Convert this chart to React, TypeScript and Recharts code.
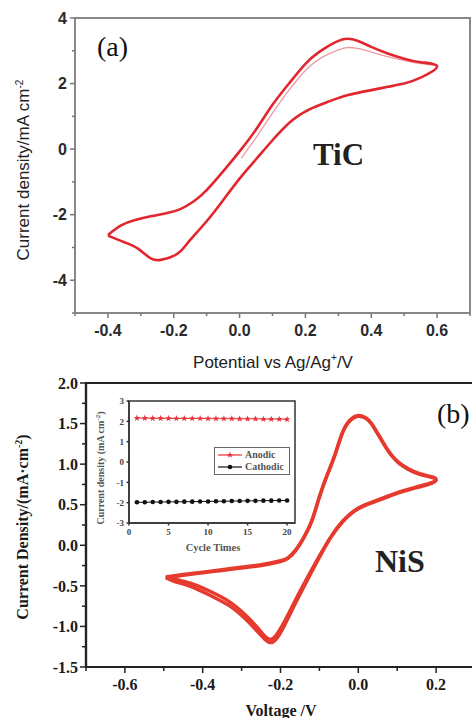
import React from 'react';
import { LineChart, Line, XAxis, YAxis, ReferenceArea, Symbols } from 'recharts';

// (a) TiC cyclic voltammogram, steady cycle: forward sweep then reverse sweep
const tiCPotential = [
  -0.4, -0.36, -0.32, -0.27, -0.22, -0.18, -0.14, -0.1, -0.05, 0.0, 0.05, 0.1, 0.15, 0.2, 0.24, 0.28, 0.32, 0.36, 0.4, 0.45, 0.5, 0.55, 0.6,
  0.55, 0.5, 0.45, 0.4, 0.33, 0.27, 0.22, 0.16, 0.1, 0.05, 0.0, -0.05, -0.1, -0.15, -0.18, -0.21, -0.24, -0.27, -0.31, -0.35, -0.4,
];
const tiCCurrent = [
  -2.62, -2.33, -2.17, -2.05, -1.95, -1.83, -1.6, -1.25, -0.68, -0.07, 0.6, 1.35, 2.0, 2.6, 2.95, 3.2, 3.36, 3.3, 3.12, 2.92, 2.76, 2.65, 2.52,
  2.18, 2.0, 1.9, 1.8, 1.65, 1.45, 1.25, 0.88, 0.27, -0.31, -0.9, -1.56, -2.2, -2.77, -3.12, -3.3, -3.38, -3.33, -3.03, -2.84, -2.64,
];
// first cycle (thin line), starting at open circuit
const tiCFirstPotential = [0.005, 0.05, 0.1, 0.15, 0.2, 0.25, 0.3, 0.33, 0.37, 0.42, 0.48, 0.54, 0.6];
const tiCFirstCurrent = [-0.28, 0.35, 1.1, 1.8, 2.4, 2.8, 3.03, 3.1, 3.05, 2.9, 2.75, 2.62, 2.55];

// (b) NiS cyclic voltammogram, two overlapping cycles
const niSPotential = [
  -0.495, -0.45, -0.4, -0.35, -0.3, -0.25, -0.2, -0.18, -0.16, -0.14, -0.12, -0.1, -0.08, -0.06, -0.04, -0.02, 0.0, 0.02, 0.04, 0.07, 0.1, 0.13, 0.16, 0.2,
  0.15, 0.1, 0.05, 0.0, -0.04, -0.07, -0.1, -0.13, -0.16, -0.19, -0.21, -0.225, -0.24, -0.26, -0.29, -0.33, -0.38, -0.43, -0.47, -0.495,
];
const niSCurrent1 = [
  -0.39, -0.36, -0.33, -0.3, -0.27, -0.24, -0.19, -0.15, -0.05, 0.1, 0.3, 0.6, 0.87, 1.12, 1.4, 1.55, 1.6, 1.57, 1.46, 1.22, 1.04, 0.94, 0.88, 0.81,
  0.72, 0.65, 0.56, 0.46, 0.3, 0.11, -0.13, -0.39, -0.66, -0.94, -1.1, -1.16, -1.12, -1.01, -0.86, -0.7, -0.57, -0.47, -0.42, -0.39,
];
const niSCurrent2 = [
  -0.4, -0.37, -0.34, -0.31, -0.28, -0.25, -0.2, -0.16, -0.06, 0.09, 0.29, 0.59, 0.86, 1.11, 1.39, 1.54, 1.59, 1.56, 1.45, 1.21, 1.03, 0.93, 0.87, 0.8,
  0.71, 0.64, 0.55, 0.45, 0.29, 0.1, -0.15, -0.42, -0.7, -0.99, -1.15, -1.2, -1.16, -1.06, -0.91, -0.75, -0.62, -0.51, -0.45, -0.4,
];

// inset: peak current vs cycle number
const cycles = [1, 2, 3, 4, 5, 6, 7, 8, 9, 10, 11, 12, 13, 14, 15, 16, 17, 18, 19, 20];
const anodic = [2.16, 2.16, 2.15, 2.15, 2.15, 2.14, 2.14, 2.14, 2.14, 2.13, 2.13, 2.13, 2.13, 2.12, 2.12, 2.12, 2.11, 2.11, 2.11, 2.1];
const cathodic = [-1.98, -1.98, -1.97, -1.97, -1.96, -1.96, -1.95, -1.95, -1.94, -1.94, -1.93, -1.93, -1.92, -1.92, -1.91, -1.91, -1.9, -1.9, -1.89, -1.89];

// tick values (majors and minors)
const tiCXTicks = [-0.5, -0.4, -0.3, -0.2, -0.1, 0, 0.1, 0.2, 0.3, 0.4, 0.5, 0.6, 0.7];
const tiCYTicks = [-5, -4, -3, -2, -1, 0, 1, 2, 3, 4];
const niSXTicks = [-0.7, -0.6, -0.5, -0.4, -0.3, -0.2, -0.1, 0, 0.1, 0.2, 0.3];
const niSYTicks = [-1.5, -1.25, -1, -0.75, -0.5, -0.25, 0, 0.25, 0.5, 0.75, 1, 1.25, 1.5, 1.75, 2];
const insetXTicks = [0, 5, 10, 15, 20];
const insetYTicks = [-3, -2, -1, 0, 1, 2, 3];

const zip = (xs: number[], ys: number[]) => xs.map((x, i) => ({ x, y: ys[i] }));

const SANS = '"Liberation Sans", Arial, sans-serif';
const SERIF = '"Liberation Serif", "Times New Roman", serif';

const RED_A = '#e2262d';
const RED_B = '#e63a2e';

type TickCfg = {
  isMajor: (v: number) => boolean;
  fmt: (v: number) => string;
  major: number;
  minor: number;
  color: string;
  off: number;
  font: string;
  size: number;
  weight: string | number;
  textColor: string;
};

const xTick = (c: TickCfg) => (p: any) => {
  const v = p.payload.value;
  const major = c.isMajor(v);
  return (
    <g>
      <line x1={p.x} x2={p.x} y1={p.y} y2={p.y + (major ? c.major : c.minor)} stroke={c.color} strokeWidth={1.5} />
      {major && (
        <text x={p.x} y={p.y + c.off} textAnchor="middle" fontFamily={c.font} fontSize={c.size} fontWeight={c.weight} fill={c.textColor}>
          {c.fmt(v)}
        </text>
      )}
    </g>
  );
};

const yTick = (c: TickCfg) => (p: any) => {
  const v = p.payload.value;
  const major = c.isMajor(v);
  return (
    <g>
      <line x1={p.x} x2={p.x - (major ? c.major : c.minor)} y1={p.y} y2={p.y} stroke={c.color} strokeWidth={1.5} />
      {major && (
        <text x={p.x - c.off} y={p.y} dy="0.36em" textAnchor="end" fontFamily={c.font} fontSize={c.size} fontWeight={c.weight} fill={c.textColor}>
          {c.fmt(v)}
        </text>
      )}
    </g>
  );
};

const rotated = (cx: number, cy: number, style: React.CSSProperties, children: React.ReactNode) => (
  <div
    style={{
      position: 'absolute',
      left: cx,
      top: cy,
      transform: 'translate(-50%, -50%) rotate(-90deg)',
      whiteSpace: 'nowrap',
      lineHeight: 1,
      ...style,
    }}
  >
    {children}
  </div>
);

const AnodicDot = (p: any) => (
  <Symbols key={`an-${p.index}`} cx={p.cx} cy={p.cy} type="star" size={14} fill="#e8303a" stroke="none" />
);
const CathodicDot = (p: any) => <circle key={`ca-${p.index}`} cx={p.cx} cy={p.cy} r={2.3} fill="#111" />;

export default function App() {
  const tiCLoop = zip(tiCPotential, tiCCurrent);
  const tiCFirst = zip(tiCFirstPotential, tiCFirstCurrent);
  const niS1 = zip(niSPotential, niSCurrent1);
  const niS2 = zip(niSPotential, niSCurrent2);
  const anodicData = zip(cycles, anodic);
  const cathodicData = zip(cycles, cathodic);

  const tickA = {
    major: 5,
    minor: 3,
    color: '#777',
    font: SANS,
    size: 16,
    weight: 'bold',
    textColor: '#2a2a2a',
  };
  const tickB = {
    major: 6,
    minor: 4,
    color: '#222',
    font: SERIF,
    size: 16,
    weight: 'bold',
    textColor: '#1a1a1a',
  };
  const tickIn = {
    major: 2.5,
    minor: 2.5,
    color: '#333',
    font: SERIF,
    size: 9,
    weight: 'bold',
    textColor: '#444',
  };

  return (
    <div style={{ position: 'absolute', left: 0, top: 0, width: 472, height: 718, overflow: 'hidden', background: '#fff' }}>
      {/* (a) TiC */}
      <div style={{ position: 'absolute', left: 0, top: 0 }}>
        <LineChart width={472} height={340} margin={{ top: 18, right: 2, bottom: 0, left: 0 }}>
          <XAxis
            type="number"
            dataKey="x"
            domain={[-0.5, 0.7]}
            ticks={tiCXTicks}
            interval={0}
            height={27}
            tickSize={0}
            tickMargin={0}
            tickLine={false}
            axisLine={{ stroke: '#888', strokeWidth: 2 }}
            tick={xTick({ ...tickA, isMajor: (v) => Math.round(v * 10) % 2 === 0, fmt: (v) => v.toFixed(1), off: 23 })}
          />
          <YAxis
            type="number"
            domain={[-5, 4]}
            ticks={tiCYTicks}
            interval={0}
            width={75}
            tickSize={0}
            tickMargin={0}
            tickLine={false}
            axisLine={{ stroke: '#888', strokeWidth: 2 }}
            tick={yTick({ ...tickA, isMajor: (v) => v % 2 === 0, fmt: (v) => String(v), off: 8 })}
          />
          <ReferenceArea x1={-0.5} x2={0.7} y1={-5} y2={4} fill="none" stroke="#888" strokeWidth={2} />
          <Line data={tiCFirst} dataKey="y" type="natural" stroke="#ee9aa2" strokeWidth={1.3} dot={false} isAnimationActive={false} />
          <Line data={tiCLoop} dataKey="y" type="natural" stroke={RED_A} strokeWidth={2.6} dot={false} isAnimationActive={false} />
        </LineChart>
      </div>
      {rotated(23, 170, { fontFamily: SANS, fontSize: 17, color: '#222' }, (
        <span>
          Current density/mA cm<sup style={{ fontSize: 10 }}>-2</sup>
        </span>
      ))}
      <div style={{ position: 'absolute', left: 0, width: 546, top: 353, textAlign: 'center', fontFamily: SANS, fontSize: 17, color: '#222', lineHeight: 1 }}>
        Potential vs Ag/Ag<sup style={{ fontSize: 10 }}>+</sup>/V
      </div>
      <div style={{ position: 'absolute', left: 97, top: 33, fontFamily: SERIF, fontSize: 28, color: '#111', lineHeight: 1 }}>(a)</div>
      <div style={{ position: 'absolute', left: 313, top: 139, fontFamily: SERIF, fontSize: 31, fontWeight: 'bold', color: '#222', lineHeight: 1 }}>TiC</div>

      {/* (b) NiS */}
      <div style={{ position: 'absolute', left: 0, top: 350 }}>
        <LineChart width={476} height={368} margin={{ top: 33, right: 1, bottom: 0, left: 0 }}>
          <XAxis
            type="number"
            dataKey="x"
            domain={[-0.7, 0.3]}
            ticks={niSXTicks}
            interval={0}
            height={51}
            tickSize={0}
            tickMargin={0}
            tickLine={false}
            axisLine={{ stroke: '#222', strokeWidth: 2.2 }}
            tick={xTick({ ...tickB, isMajor: (v) => Math.round(v * 10) % 2 === 0, fmt: (v) => v.toFixed(1), off: 23 })}
          />
          <YAxis
            type="number"
            domain={[-1.5, 2]}
            ticks={niSYTicks}
            interval={0}
            width={86}
            tickSize={0}
            tickMargin={0}
            tickLine={false}
            axisLine={{ stroke: '#222', strokeWidth: 2.2 }}
            tick={yTick({ ...tickB, isMajor: (v) => Math.round(v * 4) % 2 === 0, fmt: (v) => v.toFixed(1), off: 8 })}
          />
          <ReferenceArea x1={-0.7} x2={0.3} y1={-1.5} y2={2} fill="none" stroke="#222" strokeWidth={2.2} />
          <Line data={niS2} dataKey="y" type="natural" stroke={RED_B} strokeWidth={3.4} dot={false} isAnimationActive={false} />
          <Line data={niS1} dataKey="y" type="natural" stroke={RED_B} strokeWidth={3.4} dot={false} isAnimationActive={false} />
        </LineChart>
      </div>
      {rotated(23, 527, { fontFamily: SERIF, fontSize: 16, fontWeight: 'bold', color: '#1a1a1a' }, (
        <span>
          Current Density/(mA·cm<sup style={{ fontSize: 10 }}>-2</sup>)
        </span>
      ))}
      <div style={{ position: 'absolute', left: 0, width: 562, top: 703, textAlign: 'center', fontFamily: SERIF, fontSize: 16, fontWeight: 'bold', color: '#1a1a1a', lineHeight: 1 }}>
        Voltage /V
      </div>
      <div style={{ position: 'absolute', left: 437, top: 400, fontFamily: SERIF, fontSize: 28, color: '#111', lineHeight: 1 }}>(b)</div>
      <div style={{ position: 'absolute', left: 375, top: 545, fontFamily: SERIF, fontSize: 32, fontWeight: 'bold', color: '#222', lineHeight: 1 }}>NiS</div>

      {/* inset: cycling stability */}
      <div style={{ position: 'absolute', left: 95, top: 395 }}>
        <LineChart width={205} height={165} margin={{ top: 6, right: 5, bottom: 0, left: 0 }}>
          <XAxis
            type="number"
            dataKey="x"
            domain={[0, 21]}
            ticks={insetXTicks}
            interval={0}
            height={37}
            tickSize={0}
            tickMargin={0}
            tickLine={false}
            axisLine={{ stroke: '#333', strokeWidth: 1.5 }}
            tick={xTick({ ...tickIn, isMajor: () => true, fmt: (v) => String(v), off: 12 })}
          />
          <YAxis
            type="number"
            domain={[-3, 3]}
            ticks={insetYTicks}
            interval={0}
            width={34}
            tickSize={0}
            tickMargin={0}
            tickLine={false}
            axisLine={{ stroke: '#333', strokeWidth: 1.5 }}
            tick={yTick({ ...tickIn, isMajor: () => true, fmt: (v) => String(v), off: 5 })}
          />
          <ReferenceArea x1={0} x2={21} y1={-3} y2={3} fill="none" stroke="#333" strokeWidth={1.5} />
          <Line data={anodicData} dataKey="y" type="linear" stroke="#e8303a" strokeWidth={1} dot={AnodicDot} isAnimationActive={false} />
          <Line data={cathodicData} dataKey="y" type="linear" stroke="#111" strokeWidth={1} dot={CathodicDot} isAnimationActive={false} />
        </LineChart>
      </div>
      {rotated(101, 468, { fontFamily: SERIF, fontSize: 10, fontWeight: 'bold', color: '#555' }, (
        <span>
          Current density (mA cm<sup style={{ fontSize: 7 }}>-2</sup>)
        </span>
      ))}
      <div style={{ position: 'absolute', left: 163, width: 100, top: 543, textAlign: 'center', fontFamily: SERIF, fontSize: 10.5, fontWeight: 'bold', color: '#555', lineHeight: 1 }}>
        Cycle Times
      </div>
      <div
        style={{
          position: 'absolute',
          left: 214,
          top: 447,
          width: 76,
          height: 28,
          border: '1px solid #666',
          boxSizing: 'border-box',
          fontFamily: SERIF,
          fontSize: 10,
          fontWeight: 'bold',
          color: '#555',
          lineHeight: '12px',
          padding: '1px 0 0 2px',
        }}
      >
        {[
          { name: 'Anodic', color: '#e8303a', star: true },
          { name: 'Cathodic', color: '#111', star: false },
        ].map((item) => (
          <div key={item.name} style={{ display: 'flex', alignItems: 'center', gap: 2 }}>
            <svg width={26} height={12}>
              <line x1={1} x2={25} y1={6} y2={6} stroke={item.color} strokeWidth={1.2} />
              {item.star ? <Symbols cx={13} cy={6} type="star" size={14} fill={item.color} /> : <circle cx={13} cy={6} r={2.3} fill={item.color} />}
            </svg>
            <span>{item.name}</span>
          </div>
        ))}
      </div>
    </div>
  );
}
